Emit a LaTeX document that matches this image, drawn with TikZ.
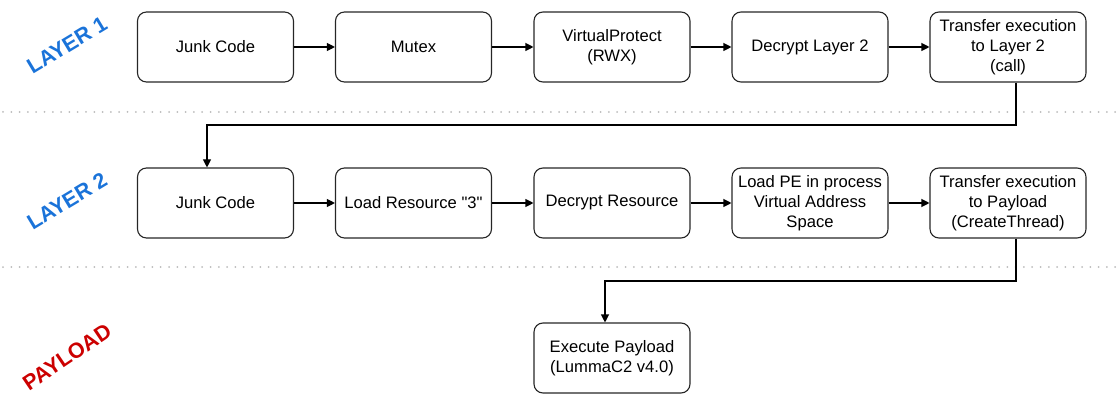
\documentclass[tikz,border=0pt]{standalone}
\usepackage{fontspec}
\setmainfont{Liberation Sans}
\usetikzlibrary{arrows.meta}
\definecolor{lblue}{HTML}{1A73D9}
\definecolor{lred}{HTML}{CC0000}
\definecolor{dotgray}{HTML}{BBBBBB}
\begin{document}
\begin{tikzpicture}[x=1pt,y=-1pt,
  box/.style={draw=black!85,line width=1.1pt,rounded corners=9pt,minimum width=156pt,minimum height=70pt,align=center,font=\fontsize{16.6}{19.8}\selectfont,inner sep=1pt},
  conn/.style={draw=black,line width=1.1pt,-{Triangle[length=8pt,width=8pt]}},
  sep/.style={draw=dotgray,line width=2pt,dash pattern=on 0pt off 8.3pt,line cap=round},
  lbl/.style={font=\fontsize{21.5}{21.5}\selectfont\bfseries}]
\useasboundingbox (0,0) rectangle (1118,395);
% separators
\path[sep] (3,112) -- (1116,112);
\path[sep] (3,267) -- (1116,267);
% labels
\node[lbl,text=lblue,rotate=31] (l1) at (67,45) {LAYER 1};
\node[lbl,text=lblue,rotate=31] (l2) at (67,201) {LAYER 2};
\node[lbl,text=lred,rotate=34] (l3) at (67,357) {PAYLOAD};
% row 1
\node[box] (a1) at (215.5,47) {Junk Code};
\node[box] (a2) at (413.5,47) {Mutex};
\node[box] (a3) at (612,47) {VirtualProtect\\(RWX)};
\node[box] (a4) at (810,47) {Decrypt Layer 2};
\node[box] (a5) at (1008,47) {Transfer execution\\to Layer 2\\(call)};
% row 2
\node[box] (b1) at (215.5,203) {Junk Code};
\node[box] (b2) at (413.5,203) {Load Resource \textquotedbl 3\textquotedbl};
\node[box] (b3) at (612,203) {Decrypt Resource};
\node[box] (b4) at (810,203) {Load PE in process\\Virtual Address\\Space};
\node[box] (b5) at (1008,203) {Transfer execution\\to Payload\\(CreateThread)};
% payload
\node[box] (c1) at (612,358) {Execute Payload\\(LummaC2 v4.0)};
% arrows
\draw[conn] (a1) -- (a2);
\draw[conn] (a2) -- (a3);
\draw[conn] (a3) -- (a4);
\draw[conn] (a4) -- (a5);
\draw[conn] (b1) -- (b2);
\draw[conn] (b2) -- (b3);
\draw[conn] (b3) -- (b4);
\draw[conn] (b4) -- (b5);
\draw[conn] ([xshift=8pt]a5.south) |- (207,125) -- ([xshift=-8.5pt]b1.north);
\draw[conn] ([xshift=8pt]b5.south) |- (605,281) -- ([xshift=-7pt]c1.north);
\end{tikzpicture}
\end{document}
